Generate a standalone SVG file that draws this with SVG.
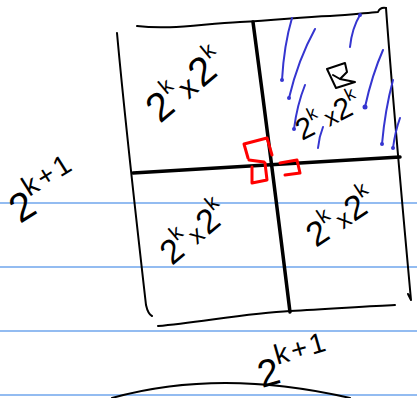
<svg xmlns="http://www.w3.org/2000/svg" width="417" height="398" viewBox="0 0 417 398">
<style>
.rule{stroke:#6fa6ec;stroke-width:1.5;fill:none}
.ink{stroke:#000;stroke-width:2;fill:none;stroke-linecap:round;stroke-linejoin:round}
.thick{stroke:#000;stroke-width:3.5;fill:none;stroke-linecap:round}
.red{stroke:#f00;stroke-width:3;fill:none;stroke-linecap:round;stroke-linejoin:round}
.blue{stroke:#3535d0;stroke-width:2;fill:none;stroke-linecap:round}
.dot{fill:#3535d0}
.hw{font-family:"Liberation Sans",Arial,sans-serif;fill:#000}
</style>
<rect width="417" height="398" fill="#fff"/>
<g id="rules">
<line class="rule" x1="0" y1="203" x2="417" y2="203"/>
<line class="rule" x1="0" y1="267" x2="417" y2="267"/>
<line class="rule" x1="0" y1="331" x2="417" y2="331"/>
<line class="rule" x1="0" y1="395" x2="417" y2="395"/>
</g>
<g id="connectors">
<path class="ink" d="M137,26 C170,30 200,24 240,22 C280,20 300,17 330,16 C350,15 365,13 378,12 Q380,7 386,8"/>
<path class="ink" d="M386,8 C392,90 400,180 411,300 L408,294"/>
<path class="ink" d="M117,33 C124,110 134,200 146,305 Q148,314 152,316"/>
<path class="ink" d="M158,326 C200,322 250,313 290,311 C330,309 370,306 395,305"/>
<path class="thick" d="M253,22 Q272,165 290,312"/>
<path class="thick" d="M133,173 L400,157"/>
<path class="ink" d="M112,398 Q220,368 350,398"/>
</g>
<g id="hatch">
<path class="blue" d="M282,80 Q284,45 292,18"/><circle class="dot" cx="282" cy="80" r="2"/>
<path class="blue" d="M289,98 Q298,60 315,29"/><circle class="dot" cx="289" cy="98" r="2"/>
<path class="blue" d="M294,129 Q297,105 305,85"/><circle class="dot" cx="294" cy="129" r="2"/>
<path class="blue" d="M318,148 Q319,137 323,127"/>
<path class="blue" d="M350,47 Q352,28 360,15"/><circle class="dot" cx="360" cy="15" r="2"/>
<path class="blue" d="M365,107 Q372,75 383,50"/><circle class="dot" cx="365" cy="107" r="2.5"/>
<path class="blue" d="M382,144 Q385,110 393,80"/><circle class="dot" cx="382" cy="144" r="2"/>
<path class="blue" d="M393,148 Q395,132 400,118"/><circle class="dot" cx="393" cy="148" r="2"/>
</g>
<g id="icon">
<path class="ink" stroke-width="2.5" d="M327,69 L345,63 L347,72 L340,79 L355,82 L336,88 Z M340,79 L333,75"/>
</g>
<g id="marks">
<path class="red" d="M248,158 L244,144 L267,138 L272,155"/>
<path class="red" d="M249,160 L264,162 M252,167 L252,183 L267,180 L265,163"/>
<path class="red" d="M280,163 L297,160 L300,173 L285,175"/>
</g>
<g id="q-tl"><text class="hw" transform="translate(160,124) rotate(-40)" font-size="40">2<tspan font-size="22" dy="-18" dx="1">k</tspan><tspan font-size="30" dy="18" dx="3">x</tspan><tspan dx="3">2</tspan><tspan font-size="22" dy="-18" dx="1">k</tspan></text></g>
<g id="q-tr"><text class="hw" transform="translate(302,141) rotate(-27)" font-size="30">2<tspan font-size="18" dy="-14">k</tspan><tspan font-size="24" dy="14" dx="5">x</tspan>2<tspan font-size="18" dy="-14">k</tspan></text></g>
<g id="q-bl"><text class="hw" transform="translate(172,266) rotate(-40)" font-size="34">2<tspan font-size="21" dy="-16">k</tspan><tspan font-size="25" dy="16" dx="3">x</tspan><tspan dx="2">2</tspan><tspan font-size="21" dy="-16">k</tspan></text></g>
<g id="q-br"><text class="hw" transform="translate(316,248) rotate(-34)" font-size="34">2<tspan font-size="21" dy="-16">k</tspan><tspan font-size="25" dy="16" dx="3">x</tspan><tspan dx="1">2</tspan><tspan font-size="21" dy="-16">k</tspan></text></g>
<g id="side"><text class="hw" transform="translate(20,224) rotate(-32)" font-size="40">2<tspan font-size="28" dy="-18" letter-spacing="3">k+1</tspan></text></g>
<g id="bottom"><text class="hw" transform="translate(262,388) rotate(-16)" font-size="38">2<tspan font-size="28" dy="-18" letter-spacing="3">k+1</tspan></text></g>
</svg>
